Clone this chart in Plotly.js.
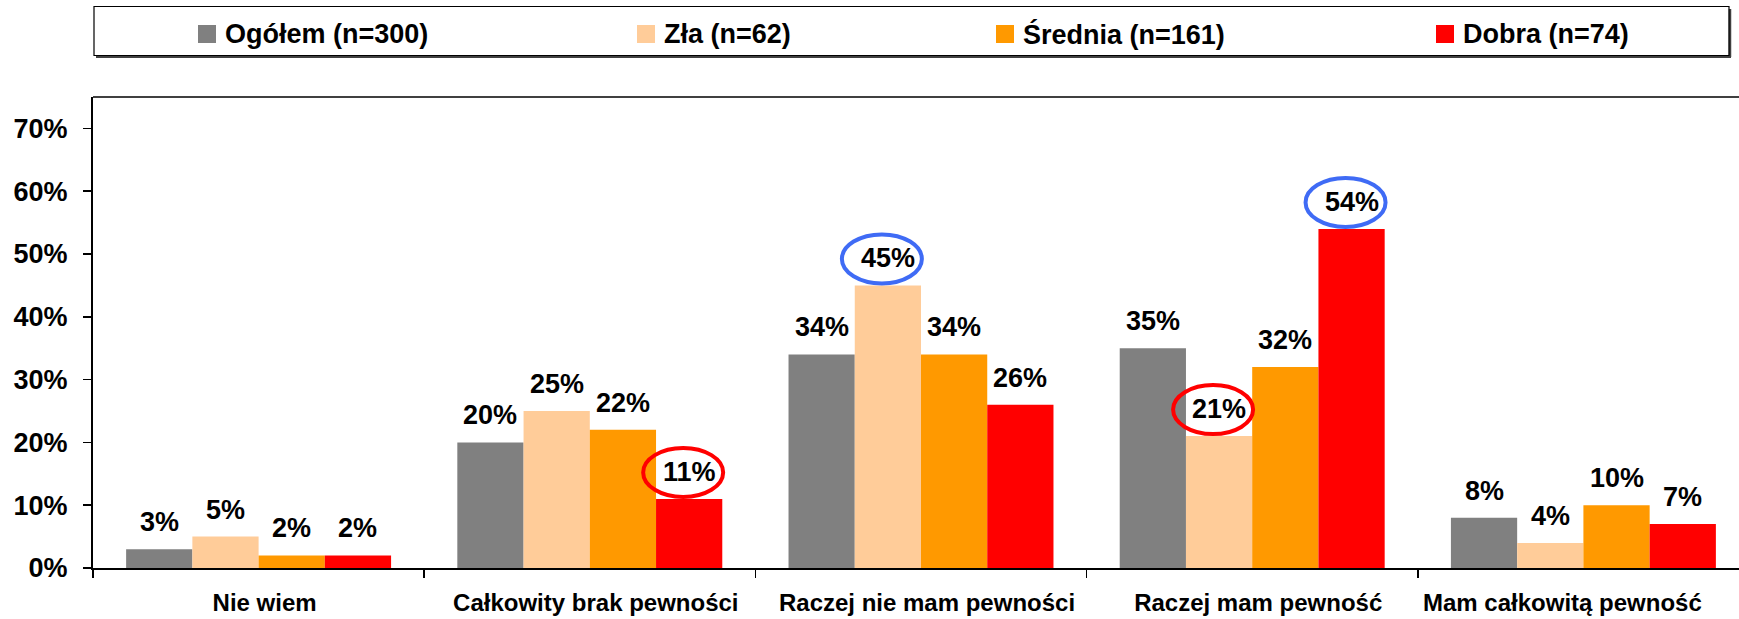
<!DOCTYPE html>
<html>
<head>
<meta charset="utf-8">
<script src="https://cdn.plot.ly/plotly-3.0.1.min.js"></script>
<style>
html,body{margin:0;padding:0;background:#fff;}
#chart{width:1739px;height:619px;}
</style>
</head>
<body>
<div id="chart"></div>
<script>
// ---- data ----
const categories = ['Nie wiem', 'Całkowity brak pewności', 'Raczej nie mam pewności', 'Raczej mam pewność', 'Mam całkowitą pewność'];
const seriesNames = ['Ogółem (n=300)', 'Zła (n=62)', 'Średnia (n=161)', 'Dobra (n=74)'];
const ogolem  = [3, 20, 34, 35, 8];
const zla     = [5, 25, 45, 21, 4];
const srednia = [2, 22, 34, 32, 10];
const dobra   = [2, 11, 26, 54, 7];
const yTickVals = [0, 10, 20, 30, 40, 50, 60, 70];
// highlighted labels (category index, series index)
const hlCategory = [2, 3, 1, 3];
const hlSeries   = [1, 3, 3, 1];
const hlColor    = ['#3F6BF5', '#3F6BF5', '#FF0000', '#FF0000'];

// ---- styles ----
const colors = ['#808080', '#FFCC99', '#FF9900', '#FF0000'];
const FONT = 'Liberation Sans, Arial, sans-serif';
const W = 1739, H = 619;
const M = {l: 93, r: 0, t: 97, b: 51};
const plotW = W - M.l - M.r, plotH = H - M.t - M.b;
const px = x => (x - M.l) / plotW;
const py = y => (H - M.b - y) / plotH;

const allSeries = [ogolem, zla, srednia, dobra];
const traces = allSeries.map((vals, i) => ({
  type: 'bar',
  name: seriesNames[i],
  x: categories,
  y: vals,
  marker: {color: colors[i], line: {width: 0}},
  hoverinfo: 'x+y',
  showlegend: false
}));

const nS = allSeries.length;
const groupW = 0.8;
const offset = s => -groupW / 2 + groupW / nS * (s + 0.5);

const annotations = [];
allSeries.forEach((vals, s) => {
  vals.forEach((v, c) => {
    annotations.push({
      xref: 'x', yref: 'y', x: c + offset(s), y: v,
      text: v + '%', showarrow: false,
      xanchor: 'center', yanchor: 'middle', yshift: 27,
      font: {family: FONT, size: 27, weight: 700, color: '#000'}
    });
  });
});

const shapes = [];
// ellipses around highlighted labels
hlCategory.forEach((c, k) => {
  const s = hlSeries[k];
  const v = allSeries[s][c];
  shapes.push({
    type: 'circle', xref: 'x', yref: 'y',
    xsizemode: 'pixel', ysizemode: 'pixel',
    xanchor: c + offset(s), yanchor: v,
    x0: -46, x1: 34, y0: 2, y1: 51,
    line: {color: hlColor[k], width: 4}
  });
});
// top frame line
shapes.push({type: 'line', xref: 'paper', yref: 'paper', x0: 0, x1: 1, y0: 1, y1: 1,
  line: {color: '#000', width: 1.5}});

// legend box (manual)
shapes.push({type: 'line', xref: 'paper', yref: 'paper', x0: px(96), x1: px(1731), y0: py(56.5), y1: py(56.5),
  line: {color: '#404040', width: 3}});
shapes.push({type: 'line', xref: 'paper', yref: 'paper', x0: px(1730), x1: px(1730), y0: py(9), y1: py(57),
  line: {color: '#404040', width: 2.5}});
shapes.push({type: 'rect', xref: 'paper', yref: 'paper', x0: px(94), x1: px(1729), y0: py(55.5), y1: py(6.5),
  line: {color: '#000', width: 1.2}, fillcolor: 'rgba(0,0,0,0)'});
const legSquareX = [198, 637, 996, 1436];
seriesNames.forEach((n, i) => {
  shapes.push({type: 'rect', xref: 'paper', yref: 'paper',
    x0: px(legSquareX[i]), x1: px(legSquareX[i] + 18), y0: py(43), y1: py(25),
    line: {width: 0}, fillcolor: colors[i]});
  annotations.push({xref: 'paper', yref: 'paper', x: px(legSquareX[i] + 25), y: py(34),
    xanchor: 'left', yanchor: 'middle', showarrow: false, text: n,
    font: {family: FONT, size: 27, weight: 700, color: '#000'}});
});

// last category label sits further left (fitted inside the cropped frame): drawn as annotation
const lastIdx = categories.length - 1;
const tickText = categories.map((c, i) => i === lastIdx ? '' : c);
annotations.push({
  xref: 'x', yref: 'paper', x: lastIdx, y: 0,
  xanchor: 'center', yanchor: 'middle', xshift: -21, yshift: -34,
  showarrow: false, text: categories[lastIdx],
  font: {family: FONT, size: 24, weight: 700, color: '#000'}
});

const layout = {
  width: W, height: H,
  margin: M,
  paper_bgcolor: '#fff', plot_bgcolor: '#fff',
  barmode: 'group', bargap: 0.2, bargroupgap: 0,
  showlegend: false,
  xaxis: {
    type: 'category',
    range: [-0.5, -0.5 + plotW / 331.2],
    tickvals: categories, ticktext: tickText,
    tickangle: 0,
    showline: true, linecolor: '#000', linewidth: 2,
    ticks: 'outside', tickson: 'boundaries', ticklen: 8, tickwidth: 1.5, tickcolor: '#000',
    showgrid: false, zeroline: false,
    ticklabelstandoff: 12, ticklabelshift: 6,
    tickfont: {family: FONT, size: 24, weight: 700, color: '#000'}
  },
  yaxis: {
    range: [0, 75],
    tickvals: yTickVals, ticktext: yTickVals.map(v => v + '%'),
    showline: true, linecolor: '#000', linewidth: 2,
    ticks: 'outside', ticklen: 8, tickwidth: 1.5, tickcolor: '#000',
    showgrid: false, zeroline: false,
    ticklabelstandoff: 10,
    tickfont: {family: FONT, size: 27, weight: 700, color: '#000'}
  },
  annotations: annotations,
  shapes: shapes
};

Plotly.newPlot('chart', traces, layout, {displayModeBar: false, staticPlot: true});
</script>
</body>
</html>
